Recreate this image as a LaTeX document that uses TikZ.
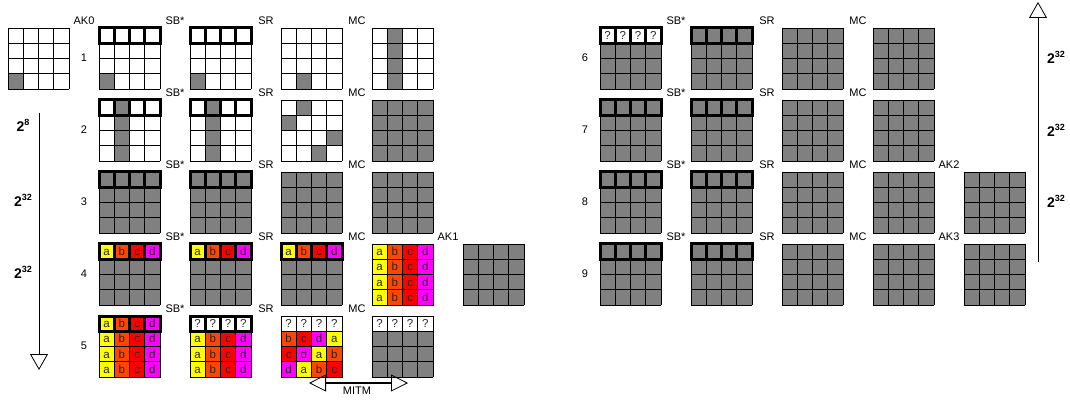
\documentclass[tikz,border=0pt]{standalone}
\usepackage{fontspec}
\setmainfont{Liberation Sans}
\usetikzlibrary{arrows.meta}
\definecolor{cgray}{HTML}{808080}
\definecolor{ya}{HTML}{FFFF00}
\definecolor{ob}{HTML}{FF4500}
\definecolor{rc}{HTML}{FF0000}
\definecolor{md}{HTML}{FF00FF}
\newcommand{\cw}{15.25}
% 4x4 state, top left corner at (#3,#4)
\newcommand{\blk}[4][white]{%
  \coordinate (#2) at (#3,#4);
  \fill[fill=#1] (#2) rectangle ++(61,61);
  \foreach \k in {0,...,4}{
    \draw[gridline] ([shift={(\k*\cw,0)}]#2) -- ++(0,61);
    \draw[gridline] ([shift={(0,\k*\cw)}]#2) -- ++(61,0);}}
% one row of cells, given as fill/text
\newcommand{\cells}[3]{%
  \foreach \f/\t [count=\c from 0] in {#3}
    \node[cell, fill=\f] (#1-#2-\c) at ([shift={(\c*\cw+\cw/2,#2*\cw+\cw/2)}]#1) {\t};}
\newcommand{\abcd}[2]{\cells{#1}{#2}{ya/a,ob/b,rc/c,md/d}}
\newcommand{\qrow}[1]{\cells{#1}{0}{white/?,white/?,white/?,white/?}}
\newcommand{\toprow}[1]{%
  \foreach \c in {0,...,3}
    \draw[topline] ([shift={(\c*\cw,0)}]#1) rectangle ++(\cw,\cw);}
\newcommand{\expo}[1]{\raisebox{0.8ex}{\fontsize{9}{9}\selectfont\bfseries #1}}

\begin{document}
\begin{tikzpicture}[x=1pt, y=-1pt,
  gridline/.style={line width=0.9pt, draw=black},
  cell/.style={draw, line width=0.9pt, minimum size=15.25pt, inner sep=0pt,
    outer sep=0pt, text height=8pt, text depth=0pt,
    font=\fontsize{11.5}{11.5}\selectfont, text=black!85},
  topline/.style={line width=3pt, draw=black},
  lbl/.style={font=\fontsize{11}{11}\selectfont, inner sep=0pt},
  cost/.style={font=\bfseries\fontsize{14}{14}\selectfont, inner sep=0pt},
  bigarrow/.style={-{Triangle[open, length=16pt, width=18pt, line width=0.8pt]}, line width=0.9pt}
]
\useasboundingbox (0,0) rectangle (1070,403);

% rounds 1-5
\blk{k0}{8}{28} \cells{k0}{3}{cgray/}
\blk{g11}{99}{28} \cells{g11}{3}{cgray/} \toprow{g11}
\blk{g12}{190}{28} \cells{g12}{3}{cgray/} \toprow{g12}
\blk{g13}{281}{28} \cells{g13}{3}{white/,cgray/}
\blk{g14}{372}{28} \foreach \r in {0,...,3}{\cells{g14}{\r}{white/,cgray/}}

\blk{g21}{99}{100} \foreach \r in {0,...,3}{\cells{g21}{\r}{white/,cgray/}} \toprow{g21}
\blk{g22}{190}{100} \foreach \r in {0,...,3}{\cells{g22}{\r}{white/,cgray/}} \toprow{g22}
\blk{g23}{281}{100}
\cells{g23}{0}{white/,cgray/} \cells{g23}{1}{cgray/}
\cells{g23}{2}{white/,white/,white/,cgray/} \cells{g23}{3}{white/,white/,cgray/}
\blk[cgray]{g24}{372}{100}

\blk[cgray]{g31}{99}{172} \toprow{g31}
\blk[cgray]{g32}{190}{172} \toprow{g32}
\blk[cgray]{g33}{281}{172}
\blk[cgray]{g34}{372}{172}

\blk[cgray]{g41}{99}{244} \abcd{g41}{0} \toprow{g41}
\blk[cgray]{g42}{190}{244} \abcd{g42}{0} \toprow{g42}
\blk[cgray]{g43}{281}{244} \abcd{g43}{0} \toprow{g43}
\blk{g44}{372}{244} \foreach \r in {0,...,3}{\abcd{g44}{\r}}
\blk[cgray]{k1}{463}{244}

\blk{g51}{99}{316} \foreach \r in {0,...,3}{\abcd{g51}{\r}} \toprow{g51}
\blk{g52}{190}{316} \qrow{g52} \foreach \r in {1,2,3}{\abcd{g52}{\r}} \toprow{g52}
\blk{g53}{281}{316} \qrow{g53}
\cells{g53}{1}{ob/b,rc/c,md/d,ya/a}
\cells{g53}{2}{rc/c,md/d,ya/a,ob/b}
\cells{g53}{3}{md/d,ya/a,ob/b,rc/c}
\blk[cgray]{g54}{372}{316} \qrow{g54}

% rounds 6-9
\foreach \r/\y in {6/28,7/100,8/172,9/244}{
  \blk[cgray]{g\r1}{600}{\y} \toprow{g\r1}
  \blk[cgray]{g\r2}{691}{\y} \toprow{g\r2}
  \blk[cgray]{g\r3}{782}{\y}
  \blk[cgray]{g\r4}{873}{\y}}
\qrow{g61} \toprow{g61}
\blk[cgray]{k2}{964}{172}
\blk[cgray]{k3}{964}{244}

% labels
\node[lbl] (ak0) at (84,21) {AK0};
\foreach \r/\y in {1/28,2/100,3/172,4/244,5/316}{
  \node[lbl] (n\r) at (84,\y+30) {\r};
  \node[lbl] (sb\r) at (175,\y-7) {SB*};
  \node[lbl] (sr\r) at (266,\y-7) {SR};
  \node[lbl] (mc\r) at (357,\y-7) {MC};}
\node[lbl] (ak1) at (448,237) {AK1};
\foreach \r/\y in {6/28,7/100,8/172,9/244}{
  \node[lbl] (n\r) at (585,\y+30) {\r};
  \node[lbl] (sb\r) at (676,\y-7) {SB*};
  \node[lbl] (sr\r) at (767,\y-7) {SR};
  \node[lbl] (mc\r) at (858,\y-7) {MC};}
\node[lbl] (ak2) at (949,165) {AK2};
\node[lbl] (ak3) at (949,237) {AK3};

% complexity arrows
\coordinate (dtop) at (39,113);
\coordinate (dbot) at (39,370);
\draw[bigarrow] (dtop) -- (dbot);
\node[cost] (c1) at (23,125) {2\expo{8}};
\node[cost] (c2) at (23,200) {2\expo{32}};
\node[cost] (c3) at (23,272) {2\expo{32}};
\coordinate (ubot) at (1038,262);
\coordinate (utop) at (1038,2);
\draw[bigarrow] (ubot) -- (utop);
\node[cost] (c4) at (1056,57) {2\expo{32}};
\node[cost] (c5) at (1056,130) {2\expo{32}};
\node[cost] (c6) at (1056,201) {2\expo{32}};

% meet in the middle
\coordinate (ml) at (309,383);
\coordinate (mr) at (408,383);
\draw[{Triangle[open, length=17pt, width=17pt, line width=0.8pt]}-{Triangle[open, length=17pt, width=17pt, line width=0.8pt]}, line width=1.8pt] (ml) -- (mr);
\node[lbl] (mitm) at (357,391) {MITM};
\end{tikzpicture}
\end{document}
